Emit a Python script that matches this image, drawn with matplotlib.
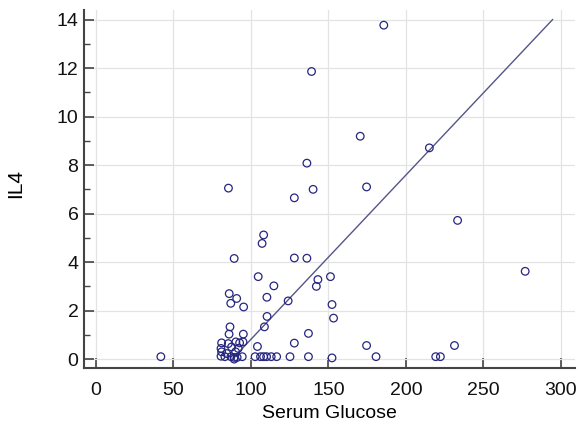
import matplotlib
matplotlib.use("Agg")
import matplotlib.pyplot as plt
from matplotlib.ticker import MultipleLocator
import numpy as np

plt.rcParams["font.family"] = ["Liberation Sans", "DejaVu Sans"]

# serum glucose vs IL4
glucose = [185.7, 139.1, 170.5, 215.1, 136.1, 140.1, 174.6, 85.5, 128.0, 233.3,
           108.2, 107.2, 89.2, 128.0, 136.1, 276.9, 104.7, 114.8, 143.2, 142.2,
           151.3, 86.0, 90.8, 110.3, 87.0, 95.3, 124.0, 152.3, 110.4, 153.3,
           86.5, 108.7, 85.9, 95.1, 137.1, 81.1, 85.4, 90.3, 92.7, 94.9,
           104.2, 128.0, 174.6, 231.3, 80.7, 87.5, 91.8, 81.1, 84.4, 90.1,
           80.7, 83.2, 87.1, 89.2, 91.1, 89.2, 94.4, 41.9, 102.7, 106.2,
           108.2, 110.1, 113.1, 116.6, 125.2, 137.1, 152.3, 180.7, 219.2, 222.2]
il4 = [13.77, 11.86, 9.19, 8.71, 8.08, 7.0, 7.1, 7.05, 6.65, 5.72,
       5.12, 4.77, 4.15, 4.17, 4.16, 3.62, 3.4, 3.02, 3.28, 3.0,
       3.4, 2.7, 2.5, 2.55, 2.3, 2.15, 2.4, 2.25, 1.76, 1.69,
       1.33, 1.33, 1.03, 1.03, 1.06, 0.67, 0.64, 0.71, 0.67, 0.71,
       0.52, 0.66, 0.56, 0.56, 0.44, 0.5, 0.44, 0.3, 0.23, 0.3,
       0.12, 0.1, 0.1, 0.07, 0.07, 0.0, 0.1, 0.1, 0.1, 0.1,
       0.1, 0.1, 0.1, 0.1, 0.1, 0.1, 0.05, 0.1, 0.1, 0.1]

# regression line as drawn (clipped to 0..14 on y)
fit_slope = 0.06776
fit_intercept = -5.96
fit_ymin, fit_ymax = 0, 14

fig = plt.figure(figsize=(5.79, 4.30), dpi=100)
ax = fig.add_axes([0.145, 0.144, 0.848, 0.833])

ax.grid(True, color="#e3e3e3", linewidth=0.9, zorder=0)

ax.scatter(glucose, il4, s=30, facecolors="none", edgecolors="#262680",
           linewidths=0.9, zorder=3)

fx = (np.array([fit_ymin, fit_ymax]) - fit_intercept) / fit_slope
ax.plot(fx, fit_slope * fx + fit_intercept, color="#555588", linewidth=1.0, zorder=2)

ax.set_xlim(-7.7, 309)
ax.set_ylim(-0.37, 14.4)
ax.xaxis.set_major_locator(MultipleLocator(50))
ax.yaxis.set_major_locator(MultipleLocator(2))
ax.yaxis.set_minor_locator(MultipleLocator(1))

for side in ["top", "right"]:
    ax.spines[side].set_visible(False)
for side in ["left", "bottom"]:
    ax.spines[side].set_color("#444444")
    ax.spines[side].set_linewidth(1.5)

ax.tick_params(axis="both", which="major", direction="in", length=7, width=1.2,
               color="#444444", labelsize=14, labelcolor="#111111")
ax.tick_params(axis="y", which="minor", direction="in", length=4, width=1.0,
               color="#444444")
ax.tick_params(axis="x", pad=10)
ax.tick_params(axis="y", pad=4)

ax.set_xlabel("Serum Glucose", fontsize=14, labelpad=4)
ax.set_ylabel("IL4", fontsize=15)
ax.yaxis.set_label_coords(-0.12, 0.514)

fig.savefig("out.png", dpi=100)
